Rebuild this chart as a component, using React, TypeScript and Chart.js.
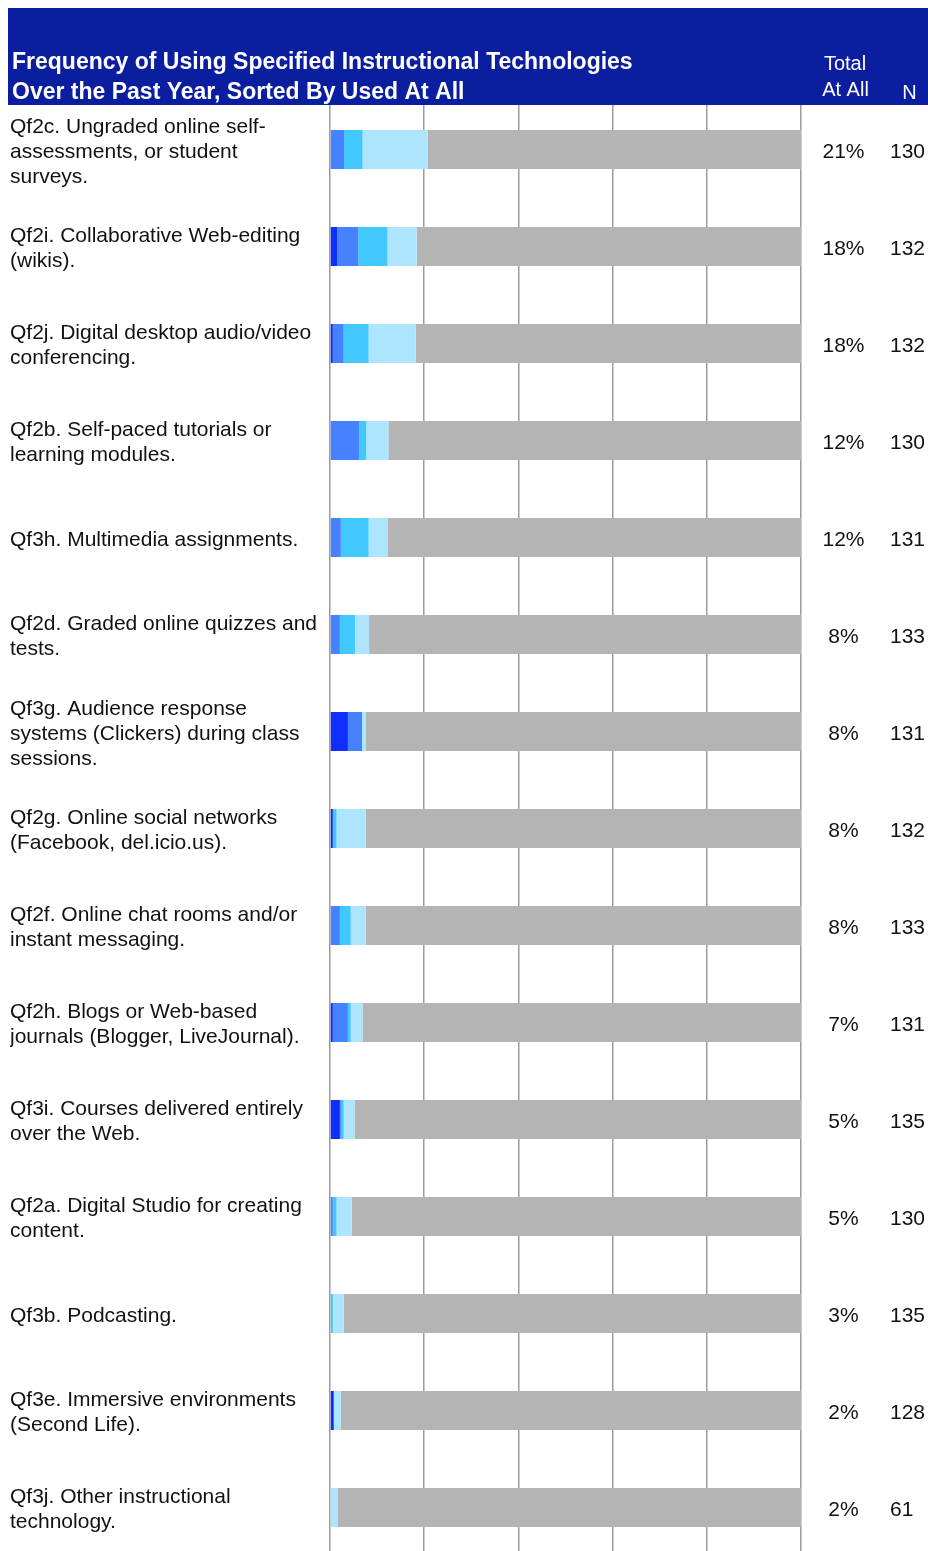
import React, { useEffect, useRef } from "react";
import { Chart, registerables } from "chart.js";

Chart.register(...registerables);

const categories: (string | string[])[] = [
  ["Qf2c. Ungraded online self-", "assessments, or student", "surveys."],
  ["Qf2i. Collaborative Web-editing", "(wikis)."],
  ["Qf2j. Digital desktop audio/video", "conferencing."],
  ["Qf2b. Self-paced tutorials or", "learning modules."],
  "Qf3h. Multimedia assignments.",
  ["Qf2d. Graded online quizzes and", "tests."],
  ["Qf3g. Audience response", "systems (Clickers) during class", "sessions."],
  ["Qf2g. Online social networks", "(Facebook, del.icio.us)."],
  ["Qf2f. Online chat rooms and/or", "instant messaging."],
  ["Qf2h. Blogs or Web-based", "journals (Blogger, LiveJournal)."],
  ["Qf3i. Courses delivered entirely", "over the Web."],
  ["Qf2a. Digital Studio for creating", "content."],
  "Qf3b. Podcasting.",
  ["Qf3e. Immersive environments", "(Second Life)."],
  ["Qf3j. Other instructional", "technology."],
];

const veryOften = [0, 1.5, 0.6, 0, 0, 0, 3.8, 0.6, 0, 0.6, 2.1, 0, 0, 0.8, 0];
const often = [3.0, 4.5, 2.3, 6.2, 2.3, 2.1, 3.0, 0, 2.1, 3.2, 0.2, 0.6, 0, 0, 0];
const sometimes = [3.9, 6.2, 5.3, 1.5, 5.9, 3.2, 0, 0.8, 2.3, 0.6, 0.6, 0.8, 0.6, 0, 0];
const rarely = [13.9, 6.2, 10.0, 4.7, 4.0, 3.0, 0.8, 6.2, 3.2, 2.5, 2.3, 3.2, 2.3, 1.5, 1.7];
const never = [79.2, 81.6, 81.8, 87.6, 87.8, 91.7, 92.4, 92.4, 92.4, 93.1, 94.8, 95.4, 97.1, 97.7, 98.3];

const totalAtAll = ["21%", "18%", "18%", "12%", "12%", "8%", "8%", "8%", "8%", "7%", "5%", "5%", "3%", "2%", "2%"];
const nValues = ["130", "132", "132", "130", "131", "133", "131", "132", "133", "131", "135", "130", "135", "128", "61"];

const xTicks = [0, 20, 40, 60, 80, 100];

const titleLines = [
  "Frequency of Using Specified Instructional Technologies",
  "Over the Past Year, Sorted By Used At All",
];

const FONT = "'Liberation Sans', Arial, Helvetica, sans-serif";

export default function App() {
  const ref = useRef<HTMLCanvasElement | null>(null);

  useEffect(() => {
    if (!ref.current) return;

    const headerPlugin = {
      id: "headerAndColumns",
      afterDatasetsDraw(chart: any) {
        const ctx = chart.ctx;
        const y = chart.scales.y;
        ctx.save();
        ctx.fillStyle = "#111111";
        ctx.font = `21px ${FONT}`;
        ctx.textBaseline = "middle";
        for (let i = 0; i < categories.length; i++) {
          const py = y.getPixelForValue(i) + 2.5;
          ctx.textAlign = "center";
          ctx.fillText(totalAtAll[i], 835.5, py);
          ctx.textAlign = "left";
          ctx.fillText(nValues[i], 882, py);
        }
        ctx.restore();
      },
      afterDraw(chart: any) {
        const ctx = chart.ctx;
        ctx.save();
        ctx.fillStyle = "#0A1E9F";
        ctx.fillRect(0, 0, chart.width, 97);
        ctx.fillStyle = "#ffffff";
        ctx.textBaseline = "alphabetic";
        ctx.textAlign = "left";
        ctx.font = `bold 23px ${FONT}`;
        ctx.fillText(titleLines[0], 4, 61);
        ctx.fillText(titleLines[1], 4, 91);
        ctx.font = `20px ${FONT}`;
        ctx.textAlign = "center";
        ctx.fillText("Total", 837, 62);
        ctx.fillText("At All", 837.5, 88);
        ctx.fillText("N", 901.5, 91);
        ctx.restore();
      },
    };

    const chart = new Chart(ref.current, {
      type: "bar",
      data: {
        labels: categories,
        datasets: [
          { label: "Very Often", data: veryOften, backgroundColor: "#0F2DFF" },
          { label: "Often", data: often, backgroundColor: "#4681FF" },
          { label: "Sometimes", data: sometimes, backgroundColor: "#40C8FF" },
          { label: "Rarely", data: rarely, backgroundColor: "#ADE5FF" },
          { label: "Never", data: never, backgroundColor: "#B4B4B4" },
        ],
      },
      options: {
        indexAxis: "y",
        responsive: false,
        animation: false,
        devicePixelRatio: 1,
        layout: { padding: { left: 2, right: 127, top: 93, bottom: 0 } },
        datasets: {
          bar: { barPercentage: 0.402, categoryPercentage: 1, borderWidth: 0 },
        },
        plugins: {
          legend: { display: false },
          title: { display: false },
          tooltip: { enabled: false },
        },
        scales: {
          x: {
            stacked: true,
            min: 0,
            max: 100,
            afterBuildTicks: (scale: any) => {
              scale.ticks = xTicks.map((v) => ({ value: v }));
            },
            afterFit: (scale: any) => {
              scale.height = 0;
              scale.paddingLeft = 0;
              scale.paddingRight = 0;
            },
            ticks: { display: false },
            grid: { color: "#9c9c9c", lineWidth: 1.5, drawTicks: false },
            border: { display: false },
          },
          y: {
            stacked: true,
            afterFit: (scale: any) => {
              scale.width = 320;
              scale.paddingTop = 0;
              scale.paddingBottom = 0;
            },
            afterUpdate: (scale: any) => {
              if (scale.__shifted) return;
              const orig = scale._computeLabelItems;
              if (typeof orig !== "function") return;
              scale.__shifted = true;
              scale._computeLabelItems = function (area: any) {
                const items = orig.call(this, area);
                return items.map((it: any) => {
                  const tr = it.options && it.options.translation;
                  if (!tr) return it;
                  return {
                    ...it,
                    options: { ...it.options, translation: [tr[0], tr[1] + 2.5] },
                  };
                });
              };
              scale._labelItems = null;
            },
            grid: { display: false, drawTicks: false },
            border: { display: false },
            ticks: {
              autoSkip: false,
              crossAlign: "far",
              padding: 0,
              color: "#111111",
              font: { family: FONT, size: 21, lineHeight: "25px" },
            },
          },
        },
      },
      plugins: [headerPlugin],
    } as any);

    return () => chart.destroy();
  }, []);

  return (
    <div
      style={{
        position: "fixed",
        left: 0,
        top: 0,
        width: 928,
        height: 1551,
        overflow: "hidden",
        background: "#ffffff",
      }}
    >
      <canvas
        ref={ref}
        width={920}
        height={1548}
        style={{ position: "absolute", left: 8, top: 8, width: 920, height: 1548, display: "block" }}
      />
    </div>
  );
}
